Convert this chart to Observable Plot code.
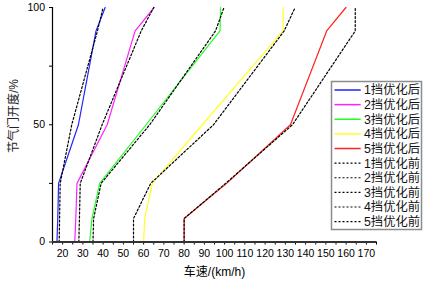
<!DOCTYPE html>
<html><head><meta charset="utf-8">
<script src="https://cdn.jsdelivr.net/npm/d3@7"></script>
<script src="https://cdn.jsdelivr.net/npm/@observablehq/plot@0.6"></script>
<style>body{margin:0;background:#fff} #chart{width:425px;height:281px}</style>
</head><body><div id="chart"></div>
<script>
// throttle opening (%) sample points
const throttle = [0, 10, 25, 50, 90, 100];
// vehicle speed (km/h) — after optimisation
const after1 = [17.2, 17.6, 18.0, 27.8, 36.5, 41.0];
const after2 = [26.0, 26.5, 27.1, 42.0, 55.8, 65.2];
const after3 = [33.3, 34.5, 38.3, 61.2, 97.7, 98.0];
const after4 = [60.0, 60.5, 64.3, 89.0, 128.9, 128.9];
const after5 = [80.0, 80.0, 101.0, 132.5, 150.4, 159.9];
// vehicle speed (km/h) — before optimisation
const before1 = [18.3, 18.5, 18.8, 24.5, 37.2, 40.0];
const before2 = [28.0, 28.3, 28.7, 39.5, 58.8, 65.0];
const before3 = [35.0, 35.3, 39.0, 63.0, 95.5, 99.7];
const before4 = [55.0, 55.0, 63.5, 94.5, 129.4, 134.8];
const before5 = [80.0, 80.0, 100.5, 133.5, 164.5, 164.5];

const afterNames = ["1挡优化后", "2挡优化后", "3挡优化后", "4挡优化后", "5挡优化后"];
const beforeNames = ["1挡优化前", "2挡优化前", "3挡优化前", "4挡优化前", "5挡优化前"];
const afterColors = ["#2222ff", "#ff22ff", "#22ff22", "#ffff22", "#ff2222"];
const xTicks = d3.range(15, 176, 5);
const yTicks = [0, 25, 50, 75, 100];
const xLabel = "车速/(km/h)";
const yLabel = "节气门开度/%";

const afterSeries = [after1, after2, after3, after4, after5];
const beforeSeries = [before1, before2, before3, before4, before5];
const afterRows = [], beforeRows = [];
afterSeries.forEach((arr, k) => throttle.forEach((t, i) => afterRows.push({name: afterNames[k], speed: arr[i], throttle: t})));
beforeSeries.forEach((arr, k) => throttle.forEach((t, i) => beforeRows.push({name: beforeNames[k], speed: arr[i], throttle: t})));

const font = "'Liberation Sans', Arial, 'Noto Sans CJK SC', sans-serif";

const svg = Plot.plot({
  width: 425, height: 281,
  marginLeft: 52, marginRight: 49, marginTop: 7, marginBottom: 39.5,
  x: {domain: [15, 175]},
  y: {domain: [0, 100]},
  color: {domain: afterNames, range: afterColors},
  style: {fontFamily: font, fontSize: "10.5px", color: "#000", background: "#fff", overflow: "visible"},
  marks: [
    Plot.line(afterRows, {x: "speed", y: "throttle", z: "name", stroke: "name", strokeWidth: 1.2}),
    Plot.line(beforeRows, {x: "speed", y: "throttle", z: "name", stroke: "#000", strokeWidth: 1.2, strokeDasharray: "2,2"}),
    Plot.axisX({ticks: xTicks, tickSize: 3, tickPadding: 5, tickFormat: d => d % 10 === 0 ? String(d) : "", label: null, stroke: "#000"}),
    Plot.axisY({ticks: yTicks, tickSize: 3, tickPadding: 4.5, tickFormat: d => d % 50 === 0 ? String(d) : "", label: null, stroke: "#000"}),
    Plot.ruleX([15], {stroke: "#000", strokeWidth: 1.2}),
    Plot.ruleY([0], {stroke: "#333", strokeWidth: 1.8})
  ]
});

const s = d3.select(svg);
s.append("text").attr("x", 214.5).attr("y", 271.7).attr("dy", "0.35em")
  .attr("text-anchor", "middle").attr("font-size", 12).attr("font-family", font).attr("fill", "#000").text(xLabel);
s.append("text").attr("transform", "translate(13.3,116) rotate(-90)").attr("dy", "0.35em")
  .attr("text-anchor", "middle").attr("font-size", 12).attr("font-family", font).attr("fill", "#222").text(yLabel);

const lg = s.append("g").attr("text-anchor", "start");
lg.append("path").attr("d", "M331.5,81.5H421.5V229.5H331.5Z")
  .attr("fill", "#ffffff").attr("stroke", "#8c8c8c").attr("stroke-width", 1.5);
const allNames = afterNames.concat(beforeNames);
allNames.forEach((n, i) => {
  const y = 90 + i * 14.63;
  const isAfter = i < 5;
  lg.append("line").attr("x1", 334.5).attr("x2", 360.7).attr("y1", y).attr("y2", y)
    .style("stroke", isAfter ? afterColors[i] : "#000").style("stroke-width", isAfter ? "1.5px" : "1.1px")
    .style("stroke-dasharray", isAfter ? "none" : "2,2");
  lg.append("text").attr("x", 364).attr("y", y).attr("dy", "0.36em").attr("font-size", 12.3)
    .attr("text-anchor", "start").attr("font-family", font).attr("fill", "#111").text(n);
});

document.getElementById("chart").appendChild(svg);
</script>
</body></html>
